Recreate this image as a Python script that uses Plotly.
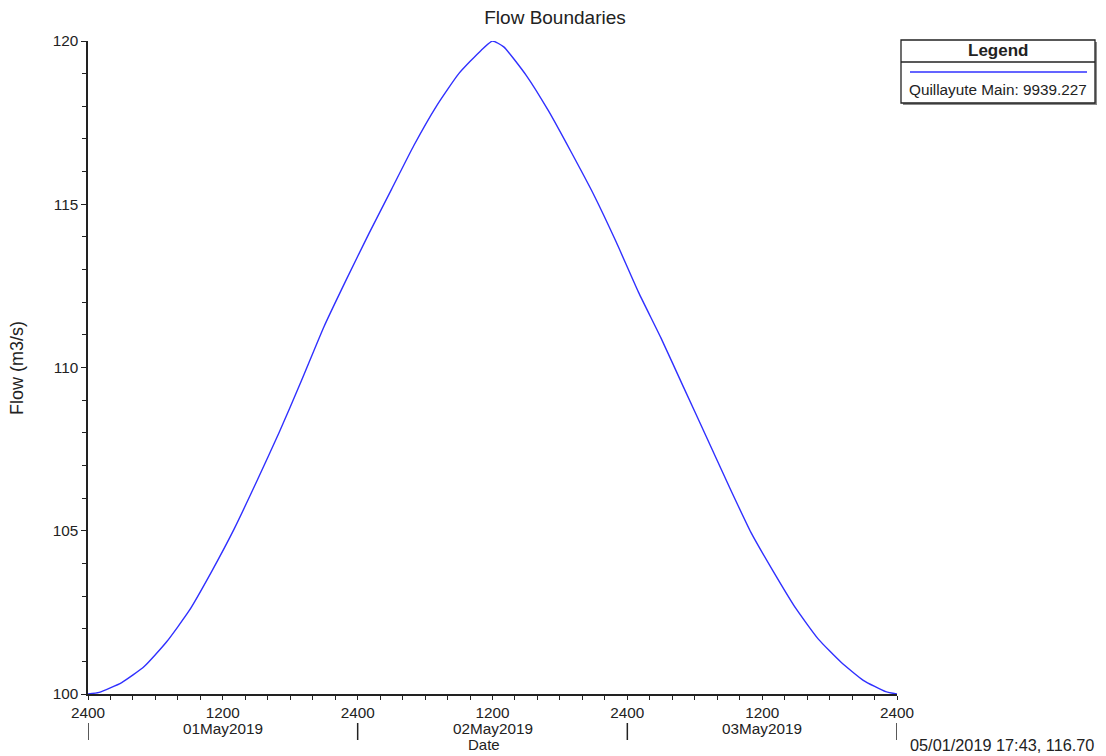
import plotly.graph_objects as go

# ---- data ----
hours = [0, 1, 3, 5, 7, 9, 11, 13, 15, 17, 19, 21, 23, 25, 27, 29, 31, 33, 35, 36,
         37, 39, 41, 43, 45, 47, 49, 51, 53, 55, 57, 59, 61, 63, 65, 67, 69, 71, 72]
flow = [100.0, 100.05, 100.35, 100.84, 101.6, 102.55, 103.75, 105.05, 106.5, 108.0,
        109.6, 111.25, 112.7, 114.1, 115.45, 116.8, 118.0, 119.0, 119.72, 120.0,
        119.82, 118.95, 117.85, 116.6, 115.3, 113.85, 112.3, 110.9, 109.4, 107.9,
        106.4, 104.95, 103.75, 102.62, 101.68, 100.98, 100.42, 100.07, 100.0]
series_name = "Quillayute Main: 9939.227"
x_tickvals = [0, 12, 24, 36, 48, 60, 72]
x_ticktext = ["2400", "1200", "2400", "1200", "2400", "1200", "2400"]
day_hours = [12, 36, 60]
day_labels = ["01May2019", "02May2019", "03May2019"]
midnight_hours = [0, 24, 48, 72]
y_tickvals = [100, 105, 110, 115, 120]
cursor_text = "05/01/2019 17:43, 116.70"

FONT = "Liberation Sans, Arial, sans-serif"
TXT = "#222222"
LINE = "#3030ff"

# page has an 8px body margin; lay out in screenshot pixels
OFF = 8
W, H = 1106 - OFF, 756 - OFF
L, R, T, B = 88, 897, 41, 694  # plot area in screenshot pixels


def px(X):
    return (X - L) / (R - L)


def py(Y):
    return (B - Y) / (B - T)


fig = go.Figure()
fig.add_trace(go.Scatter(x=hours, y=flow, mode="lines", name=series_name,
                         line=dict(color=LINE, width=1.4, shape="spline", smoothing=0.5),
                         showlegend=False))

BX0, BX1 = 901, 1095
BXC = (BX0 + BX1) / 2
shapes = [
    dict(type="rect", xref="paper", yref="paper", x0=px(BX0 + 2), x1=px(BX1 + 2), y0=py(105), y1=py(42),
         line=dict(width=0), fillcolor="#8a8a8a", layer="above"),
    dict(type="rect", xref="paper", yref="paper", x0=px(BX0), x1=px(BX1), y0=py(103), y1=py(40),
         line=dict(color="#222222", width=1.3), fillcolor="white", layer="above"),
    dict(type="line", xref="paper", yref="paper", x0=px(BX0), x1=px(BX1), y0=py(62), y1=py(62),
         line=dict(color="#222222", width=1.3), layer="above"),
    dict(type="line", xref="paper", yref="paper", x0=px(BX0 + 9), x1=px(BX1 - 8), y0=py(72), y1=py(72),
         line=dict(color=LINE, width=1.6), layer="above"),
]
for h in midnight_hours:
    shapes.append(dict(type="line", xref="x", yref="paper", x0=h, x1=h, y0=py(723), y1=py(740),
                       line=dict(color="#222222", width=1.5)))

annotations = [
    dict(text="<b>Legend</b>", xref="paper", yref="paper", x=px(BXC), y=py(51),
         showarrow=False, font=dict(family=FONT, size=17, color=TXT), xanchor="center", yanchor="middle"),
    dict(text=series_name, xref="paper", yref="paper", x=px(BXC), y=py(89),
         showarrow=False, font=dict(family=FONT, size=15.3, color=TXT), xanchor="center", yanchor="middle"),
    dict(text=cursor_text, xref="paper", yref="paper", x=px(1096), y=py(745),
         showarrow=False, font=dict(family=FONT, size=16.3, color=TXT), xanchor="right", yanchor="middle"),
    dict(text="Date", xref="paper", yref="paper", x=px(484), y=py(744),
         showarrow=False, font=dict(family=FONT, size=15, color=TXT), xanchor="center", yanchor="middle"),
    dict(text="Flow (m3/s)", xref="paper", yref="paper", x=px(17), y=py(368), textangle=-90,
         showarrow=False, font=dict(family=FONT, size=18, color=TXT), xanchor="center", yanchor="middle"),
]
for h, lab in zip(day_hours, day_labels):
    annotations.append(dict(text=lab, xref="x", yref="paper", x=h, y=py(728.5), showarrow=False,
                            font=dict(family=FONT, size=15.3, color=TXT), xanchor="center", yanchor="middle"))

fig.update_layout(
    width=W, height=H,
    margin=dict(l=L - OFF, r=W - (R - OFF), t=T - OFF, b=H - (B - OFF), pad=0),
    paper_bgcolor="white", plot_bgcolor="white",
    font=dict(family=FONT, size=15, color=TXT),
    title=dict(text="Flow Boundaries", xref="paper", x=px(555), xanchor="center",
               yref="container", y=1 - (17 - OFF) / H, yanchor="middle",
               font=dict(family=FONT, size=19, color=TXT)),
    shapes=shapes, annotations=annotations,
    showlegend=False,
)

fig.update_xaxes(
    range=[0, 72], tickmode="array", tickvals=x_tickvals, ticktext=x_ticktext,
    showgrid=False, zeroline=False, showline=True, linecolor="#222222", linewidth=1.5,
    ticks="outside", ticklen=4, tickcolor="#222222", tickwidth=1,
    minor=dict(dtick=2, tick0=0, ticks="outside", ticklen=4, tickcolor="#222222", tickwidth=1, showgrid=False),
    tickfont=dict(family=FONT, size=15.3, color=TXT),
)
fig.update_yaxes(
    range=[100, 120], tickmode="array", tickvals=y_tickvals,
    showgrid=False, zeroline=False, showline=True, linecolor="#222222", linewidth=1.5,
    ticks="outside", ticklen=5, tickcolor="#222222", tickwidth=1,
    minor=dict(dtick=1, tick0=100, ticks="outside", ticklen=4, tickcolor="#222222", tickwidth=1, showgrid=False),
    tickfont=dict(family=FONT, size=15.3, color=TXT),
)

fig.write_html("out.html")
